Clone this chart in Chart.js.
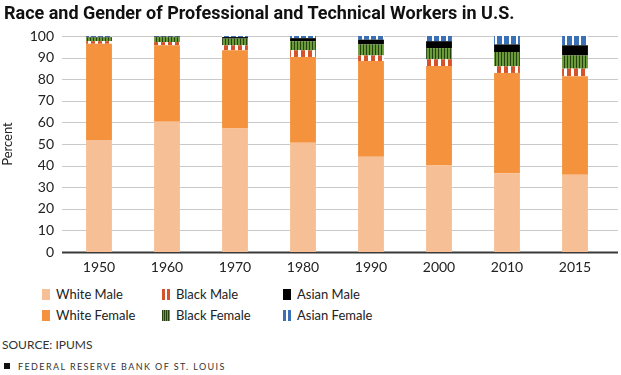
<!DOCTYPE html>
<html>
<head>
<meta charset="utf-8">
<script src="https://cdn.jsdelivr.net/npm/chart.js@4"></script>
<style>
  body { margin: 0; background: #fff; font-family: Lato, "Noto Sans", sans-serif; color: #222; }
  #wrap { position: relative; width: 621px; height: 375px; overflow: hidden; }
  #title { position: absolute; left: 4px; top: 2px; font: bold 18px "Liberation Sans Narrow", "Roboto", sans-serif; color: #111; white-space: nowrap; }
  #chartbox { position: absolute; left: 0; top: 0; width: 621px; height: 285px; }
  .leg { position: absolute; font-size: 13px; white-space: nowrap; line-height: 14px; }
  .sw { display: inline-block; width: 8px; height: 11px; vertical-align: -1px; margin-right: 6px; }
  #source { position: absolute; left: 2px; top: 337px; font-size: 12px; color: #333; }
  #footer { position: absolute; left: 18px; top: 361px; font-size: 9px; letter-spacing: 1.4px; color: #333; }
  #footbox { position: absolute; left: 4px; top: 363px; width: 6px; height: 6px; background: #111; }
</style>
</head>
<body>
<div id="wrap">
  <div id="chartbox"><canvas id="c"></canvas></div>
  <div id="title">Race and Gender of Professional and Technical Workers in U.S.</div>
  <div id="legend"></div>
  <div id="source">SOURCE: IPUMS</div>
  <div id="footbox"></div>
  <div id="footer">FEDERAL RESERVE BANK OF ST. LOUIS</div>
</div>
<script>
const years = ['1950', '1960', '1970', '1980', '1990', '2000', '2010', '2015'];
const whiteMale   = [51.8, 60.3, 57.2, 50.6, 44.1, 40.1, 36.5, 35.8];
const whiteFemale = [44.6, 35.4, 36.2, 39.7, 44.3, 46.0, 46.4, 45.6];
const blackMale   = [1.2, 1.5, 2.3, 3.1, 2.6, 3.1, 3.1, 3.5];
const blackFemale = [1.7, 2.3, 3.1, 4.2, 5.1, 5.2, 6.6, 6.1];
const asianMale   = [0.3, 0.2, 0.7, 1.4, 2.2, 3.2, 3.5, 4.7];
const asianFemale = [0.4, 0.3, 0.5, 1.0, 1.7, 2.4, 3.9, 4.3];
const yTicks = [0, 10, 20, 30, 40, 50, 60, 70, 80, 90, 100];

const canvas = document.getElementById('c');
const ctx = canvas.getContext('2d');

// vertical stripe pattern: list of [color, width]
function stripes(parts) {
  const w = parts.reduce((s, p) => s + p[1], 0);
  const cv = document.createElement('canvas');
  cv.width = w; cv.height = 4;
  const g = cv.getContext('2d');
  let x = 0;
  parts.forEach(p => { g.fillStyle = p[0]; g.fillRect(x, 0, p[1], 4); x += p[1]; });
  return ctx.createPattern(cv, 'repeat');
}

const series = [
  { label: 'White Male', data: whiteMale, fill: '#f7bf95', css: '#f7bf95' },
  { label: 'White Female', data: whiteFemale, fill: '#f4923e', css: '#f4923e' },
  { label: 'Black Male', data: blackMale, fill: stripes([['#d4532b', 4], ['#ffffff', 3]]),
    css: 'repeating-linear-gradient(90deg,#d4532b 0 3px,#fff 3px 5px)' },
  { label: 'Black Female', data: blackFemale, fill: stripes([['#25420f', 1], ['#6a9a3a', 2]]),
    css: 'repeating-linear-gradient(90deg,#25420f 0 1px,#6a9a3a 1px 2px)' },
  { label: 'Asian Male', data: asianMale, fill: '#000000', css: '#000' },
  { label: 'Asian Female', data: asianFemale, fill: stripes([['#3b6fb6', 5], ['#ffffff', 2]]),
    css: 'repeating-linear-gradient(90deg,#3b6fb6 0 3px,#fff 3px 5px)' }
];

// legend laid out in 3 columns x 2 rows like the original
const legendPos = {
  'White Male': [42, 287], 'Black Male': [162, 287], 'Asian Male': [283, 287],
  'White Female': [42, 308], 'Black Female': [162, 308], 'Asian Female': [283, 308]
};
const legend = document.getElementById('legend');
series.forEach(s => {
  const d = document.createElement('div');
  d.className = 'leg';
  d.style.left = legendPos[s.label][0] + 'px';
  d.style.top = legendPos[s.label][1] + 'px';
  d.innerHTML = '<span class="sw" style="background:' + s.css + '"></span>' + s.label;
  legend.appendChild(d);
});

// grid lines drawn a little wider than the plot area, as in the original
const wideGrid = {
  id: 'wideGrid',
  beforeDatasetsDraw(chart) {
    const y = chart.scales.y;
    const c = chart.ctx;
    c.save();
    yTicks.forEach(v => {
      const py = Math.round(y.getPixelForValue(v));
      if (v === 0) {
        c.strokeStyle = '#3a3a3a'; c.lineWidth = 2;
        c.beginPath(); c.moveTo(62, py + 0.5); c.lineTo(618, py + 0.5); c.stroke();
      } else {
        c.strokeStyle = '#c9c9c9'; c.lineWidth = 1;
        c.beginPath(); c.moveTo(62, py + 0.5); c.lineTo(618, py + 0.5); c.stroke();
      }
    });
    c.restore();
  }
};

new Chart(ctx, {
  type: 'bar',
  data: {
    labels: years,
    datasets: series.map(s => ({
      label: s.label,
      data: s.data,
      backgroundColor: s.fill,
      borderWidth: 0,
      categoryPercentage: 1,
      barPercentage: 0.38
    }))
  },
  options: {
    responsive: true,
    maintainAspectRatio: false,
    animation: false,
    layout: { padding: { top: 36, right: 12, left: 0, bottom: 0 } },
    plugins: { legend: { display: false }, tooltip: { enabled: false } },
    scales: {
      x: {
        stacked: true,
        grid: { display: false, drawTicks: false },
        border: { display: false },
        ticks: { color: '#222', font: { family: 'Lato', size: 14 }, padding: 7 },
        afterFit(scale) { scale.height = 33; }
      },
      y: {
        stacked: true,
        min: 0, max: 100,
        grid: { display: false, drawTicks: false },
        border: { display: false },
        ticks: { stepSize: 10, color: '#222', font: { family: 'Lato', size: 14 }, padding: 11 },
        title: { display: true, text: 'Percent', color: '#222', font: { family: 'Lato', size: 13 }, padding: 0 },
        afterFit(scale) { scale.width = 65; }
      }
    }
  },
  plugins: [wideGrid]
});
</script>
</body>
</html>
